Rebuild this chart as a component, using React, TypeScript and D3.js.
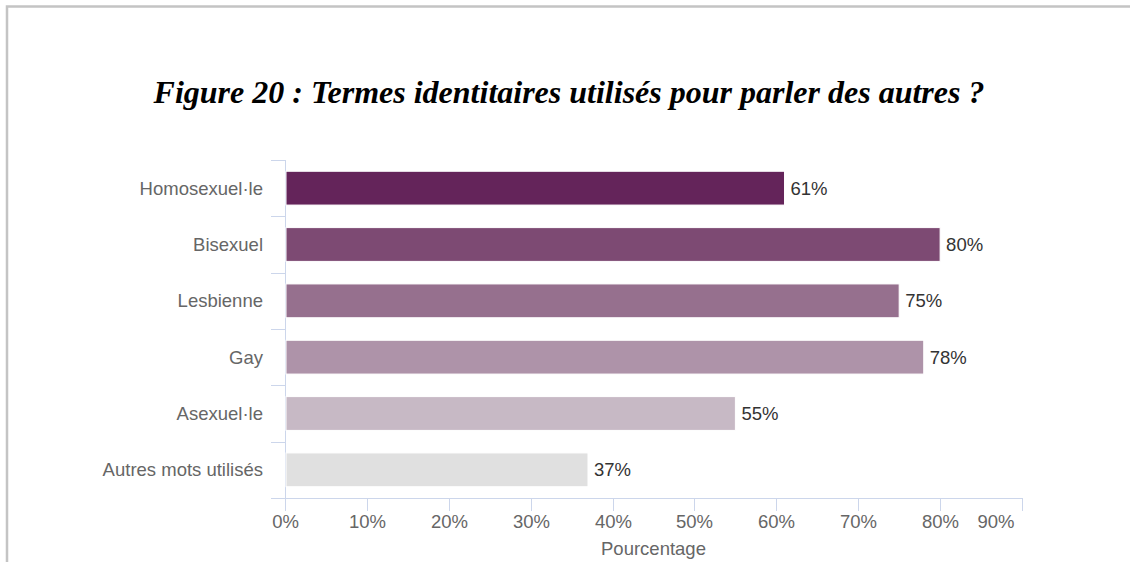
import { useRef, useEffect } from 'react'
import * as d3 from 'd3'

const categories = [
  'Homosexuel·le',
  'Bisexuel',
  'Lesbienne',
  'Gay',
  'Asexuel·le',
  'Autres mots utilisés',
]
const values = [61, 80, 75, 78, 55, 37]
const barColors = ['#64245a', '#7d4a73', '#96708e', '#ae93a9', '#c7b9c5', '#e0e0e0']
const xTicks = [0, 10, 20, 30, 40, 50, 60, 70, 80, 90]

const WIDTH = 1130
const HEIGHT = 562
const AXIS_COLOR = '#ccd6eb'
const LABEL_FONT = '"Liberation Sans", Arial, sans-serif'
const LABEL_SIZE = 18.5

export default function App() {
  const svgRef = useRef<SVGSVGElement>(null)

  useEffect(() => {
    if (!svgRef.current) return
    const svg = d3.select(svgRef.current)
    svg.selectAll('*').remove()

    const plot = { left: 285, right: 1022, top: 160, bottom: 498 }

    const x = d3.scaleLinear().domain([0, 90]).range([plot.left, plot.right])
    const y = d3
      .scaleBand<string>()
      .domain(categories)
      .range([plot.top, plot.bottom])
      .paddingInner(0.4)
      .paddingOuter(0.2)

    // frame (page border of the screenshot)
    svg
      .append('path')
      .attr('d', `M7,${HEIGHT} L7,6.5 L${WIDTH},6.5`)
      .attr('fill', 'none')
      .attr('stroke', '#c4c4c4')
      .attr('stroke-width', 2.5)

    svg
      .append('text')
      .attr('x', 569)
      .attr('y', 103)
      .attr('text-anchor', 'middle')
      .attr('font-family', '"Liberation Serif", "Times New Roman", serif')
      .attr('font-style', 'italic')
      .attr('font-weight', 'bold')
      .attr('font-size', 32)
      .attr('fill', '#000')
      .text('Figure 20 : Termes identitaires utilisés pour parler des autres ?')

    // y axis line + ticks at band boundaries
    svg
      .append('line')
      .attr('x1', plot.left + 0.5)
      .attr('x2', plot.left + 0.5)
      .attr('y1', plot.top)
      .attr('y2', plot.bottom)
      .attr('stroke', AXIS_COLOR)
    const step = y.step()
    d3.range(categories.length).forEach((i) => {
      const ty = Math.round(plot.top + i * step) + 0.5
      svg
        .append('line')
        .attr('x1', plot.left - 14)
        .attr('x2', plot.left)
        .attr('y1', ty)
        .attr('y2', ty)
        .attr('stroke', AXIS_COLOR)
    })

    // x axis line + ticks
    svg
      .append('line')
      .attr('x1', plot.left - 14)
      .attr('x2', plot.right)
      .attr('y1', plot.bottom + 0.5)
      .attr('y2', plot.bottom + 0.5)
      .attr('stroke', AXIS_COLOR)

    const xAxis = svg.append('g')
    xTicks.forEach((t, i) => {
      const tx = Math.round(x(t)) + 0.5
      xAxis
        .append('line')
        .attr('x1', tx)
        .attr('x2', tx)
        .attr('y1', plot.bottom)
        .attr('y2', plot.bottom + 13)
        .attr('stroke', AXIS_COLOR)
      const last = i === xTicks.length - 1
      xAxis
        .append('text')
        .attr('x', last ? tx - 8 : tx)
        .attr('y', 528)
        .attr('text-anchor', last ? 'end' : 'middle')
        .attr('font-family', LABEL_FONT)
        .attr('font-size', LABEL_SIZE)
        .attr('fill', '#666666')
        .text(`${t}%`)
    })

    svg
      .append('text')
      .attr('x', (plot.left + plot.right) / 2)
      .attr('y', 555)
      .attr('text-anchor', 'middle')
      .attr('font-family', LABEL_FONT)
      .attr('font-size', LABEL_SIZE)
      .attr('fill', '#666666')
      .text('Pourcentage')

    // category labels
    svg
      .append('g')
      .selectAll('text')
      .data(categories)
      .enter()
      .append('text')
      .attr('x', 263)
      .attr('y', (d) => (y(d) ?? 0) + y.bandwidth() / 2)
      .attr('dy', '0.35em')
      .attr('text-anchor', 'end')
      .attr('font-family', LABEL_FONT)
      .attr('font-size', LABEL_SIZE)
      .attr('fill', '#666666')
      .text((d) => d)

    // bars
    svg
      .append('g')
      .selectAll('rect')
      .data(values)
      .enter()
      .append('rect')
      .attr('x', plot.left + 1)
      .attr('y', (_, i) => y(categories[i]) ?? 0)
      .attr('width', (v) => x(v) - plot.left - 1)
      .attr('height', y.bandwidth())
      .attr('fill', (_, i) => barColors[i])
      .attr('stroke', '#ffffff')
      .attr('stroke-width', 1)

    // value labels
    svg
      .append('g')
      .selectAll('text')
      .data(values)
      .enter()
      .append('text')
      .attr('x', (v) => x(v) + 6)
      .attr('y', (_, i) => (y(categories[i]) ?? 0) + y.bandwidth() / 2)
      .attr('dy', '0.35em')
      .attr('font-family', LABEL_FONT)
      .attr('font-size', LABEL_SIZE)
      .attr('fill', '#333333')
      .text((v) => `${v}%`)
  }, [])

  return (
    <div style={{ position: 'absolute', left: 0, top: 0, background: '#fff' }}>
      <svg ref={svgRef} width={WIDTH} height={HEIGHT} viewBox={`0 0 ${WIDTH} ${HEIGHT}`} />
    </div>
  )
}
